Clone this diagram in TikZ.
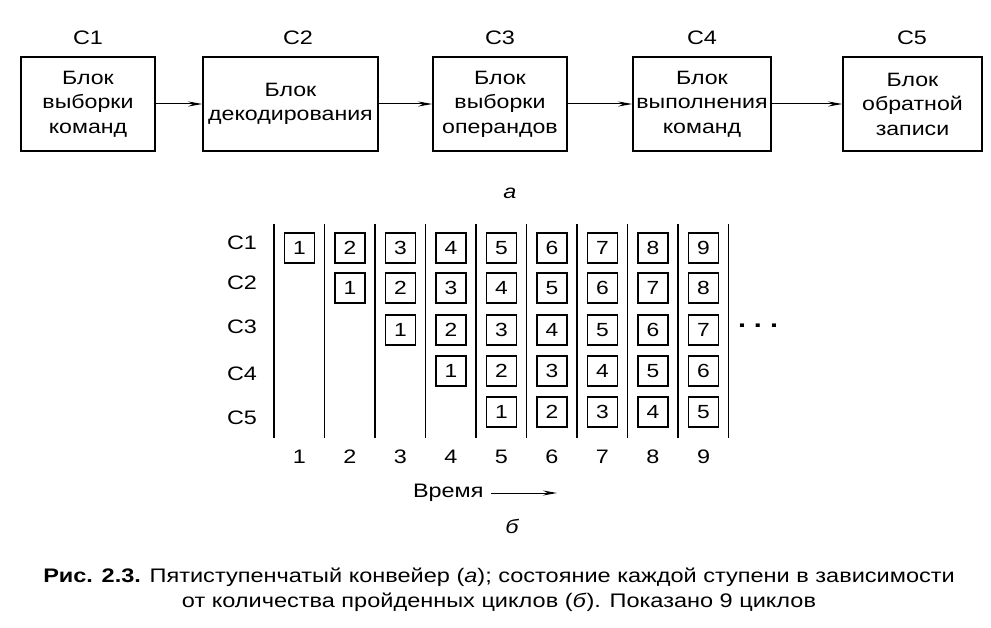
\documentclass[tikz,border=0pt]{standalone}
\usepackage{fontspec}
\setmainfont[FakeStretch=1.2]{Liberation Sans}
\usetikzlibrary{arrows.meta, positioning}

\begin{document}
\begin{tikzpicture}[x=1pt, y=-1pt,
    blk/.style={draw, line width=1.5pt, align=center, minimum height=94pt, inner sep=0pt, font=\fontsize{19.3}{24.5}\selectfont},
    lbl/.style={font=\fontsize{19.5}{22}\selectfont},
    cell/.style={draw, line width=1.3pt, minimum size=30pt, inner sep=0pt, font=\fontsize{19}{20}\selectfont},
    arr/.style={-{Stealth[length=14pt,width=5pt]}, line width=1pt}]
	\useasboundingbox (0,0) rectangle (991,628);
	% 上部:五级流水线
	\node[blk, minimum width=134pt] (b1) at (88,104) {Блок\\выборки\\команд};
	\node[blk, minimum width=175pt] (b2) at (290.5,104) {Блок\\декодирования};
	\node[blk, minimum width=134pt] (b3) at (500,104) {Блок\\выборки\\операндов};
	\node[blk, minimum width=138pt] (b4) at (702,104) {Блок\\выполнения\\команд};
	\node[blk, minimum width=139pt] (b5) at (912.5,104) {Блок\\обратной\\записи};
	\foreach \i/\x in {1/88, 2/298, 3/500, 4/702, 5/912}
		\node[lbl] (s\i) at (\x,38) {C\i};
	\foreach \a/\b in {b1/b2, b2/b3, b3/b4, b4/b5}
		\draw[arr] (\a) -- (\b);
	\node[lbl, font=\fontsize{19.5}{22}\selectfont\itshape] (pa) at (510,193) {а};
	
	% 下部:各级状态
	\foreach \k in {0,...,9}
		\draw[line width=1.6pt] (274+50.5*\k,224) coordinate (t\k) -- (274+50.5*\k,438) coordinate (u\k);
	\foreach \i/\y/\ly in {1/248/243, 2/288/283, 3/330/327, 4/371/374, 5/412/418} {
		\node[lbl] (r\i) at (242,\ly) {C\i};
		\foreach \j in {\i,...,9} {
			\pgfmathtruncatemacro{\n}{\j-\i+1}
			\node[cell] (c\i\j) at (249+50.5*\j,\y) {\n};
		}
	}
	\foreach \j in {1,...,9}
		\node[lbl] (n\j) at (249+50.5*\j,457) {\j};
	\node[lbl, font=\fontsize{24}{24}\bfseries] (dots) at (758,326) {.\,\,.\,\,.};
	
	% 时间轴
	\node[lbl, anchor=east] (tm) at (487,493) {Время};
	\coordinate (te) at (557,493);
	\draw[arr] (tm.east) ++(4,0) coordinate (ts) -- (te);
	\node[lbl, font=\fontsize{19.5}{22}\selectfont\itshape] (pb) at (512,526) {б};
	
	% 图题
	\node[align=center, font=\fontsize{19.6}{25}\selectfont] (cap) at (499,590)
		{\textbf{Рис. 2.3.} Пятиступенчатый конвейер (\textit{а}); состояние каждой ступени в зависимости\\
		от количества пройденных циклов (\textit{б}). Показано 9 циклов};
\end{tikzpicture}
\end{document}
